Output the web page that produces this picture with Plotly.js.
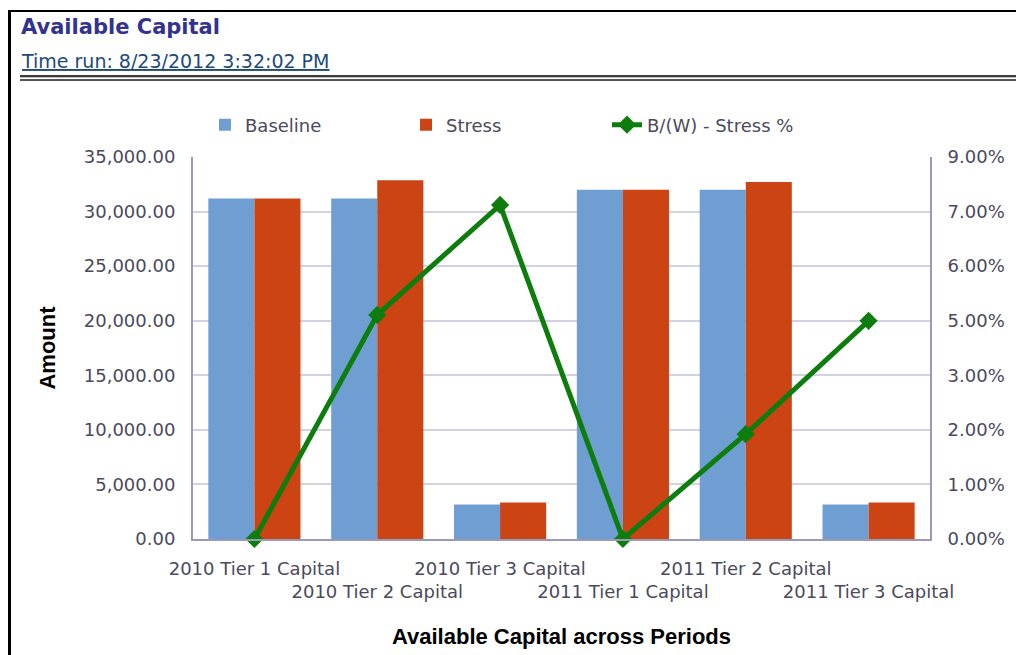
<!DOCTYPE html>
<html>
<head>
<meta charset="utf-8">
<script src="https://cdn.plot.ly/plotly-3.0.1.min.js"></script>
<style>
  html, body { margin: 0; padding: 0; background: #ffffff; }
  #wrap { position: relative; width: 1016px; height: 655px; overflow: hidden; }
  #chart { position: absolute; left: 0; top: 0; width: 1016px; height: 655px; }
  .deco { position: absolute; pointer-events: none; }
</style>
</head>
<body>
<div id="wrap">
  <div id="chart"></div>
  <div class="deco" style="left:8px; top:10px; width:1008px; height:2px; background:#000;"></div>
  <div class="deco" style="left:8px; top:10px; width:3px; height:645px; background:#000;"></div>
  <div class="deco" style="left:20px; top:75px; width:996px; height:2px; background:#3c3c3c;"></div>
  <div class="deco" style="left:20px; top:77px; width:996px; height:1px; background:#bdbdbd;"></div>
  <div class="deco" style="left:20px; top:79px; width:996px; height:2px; background:#555555;"></div>
</div>
<script>
// ---- data ----
var categories = ['2010 Tier 1 Capital', '2010 Tier 2 Capital', '2010 Tier 3 Capital',
                  '2011 Tier 1 Capital', '2011 Tier 2 Capital', '2011 Tier 3 Capital'];
var baseline = [31200, 31200, 3150, 32000, 32000, 3150];
var stress = [31200, 32880, 3350, 32000, 32700, 3350];
var stressPct = [0.0, 0.0528, 0.0787, 0.0, 0.0247, 0.0514];
var leftTickLabels = ['0.00', '5,000.00', '10,000.00', '15,000.00', '20,000.00', '25,000.00', '30,000.00', '35,000.00'];
var rightTickLabels = ['0.00%', '1.00%', '2.00%', '3.00%', '5.00%', '6.00%', '7.00%', '9.00%'];
var seriesNames = ['Baseline', 'Stress', 'B/(W) - Stress %'];
var chartTitle = 'Available Capital';
var timeRun = 'Time run: 8/23/2012 3:32:02 PM';
var xTitle = 'Available Capital across Periods';
var yTitle = 'Amount';

// ---- layout helpers ----
var leftMax = 35000, rightMax = 0.09;
var nTicks = leftTickLabels.length;
var leftTickVals = leftTickLabels.map(function (t, i) { return leftMax * i / (nTicks - 1); });
var rightTickVals = rightTickLabels.map(function (t, i) { return rightMax * i / (nTicks - 1); });
var xTickText = categories.map(function (c, i) { return i % 2 ? '<br>' + c : c; });

var tickFont = { family: 'DejaVu Sans', size: 18, color: '#4a4a5c' };

var traces = [
  {
    type: 'bar', name: seriesNames[0], x: categories, y: baseline,
    marker: { color: '#6f9fd2', line: { width: 0 } }, hoverinfo: 'y'
  },
  {
    type: 'bar', name: seriesNames[1], x: categories, y: stress,
    marker: { color: '#cc4314', line: { width: 0 } }, hoverinfo: 'y'
  },
  {
    type: 'scatter', mode: 'lines+markers', name: seriesNames[2], x: categories, y: stressPct,
    yaxis: 'y2', cliponaxis: false,
    line: { color: '#0d7d0d', width: 5 },
    marker: { symbol: 'diamond', size: 14, color: '#0d7d0d' }
  }
];

var layout = {
  width: 1016, height: 655,
  margin: { l: 193, r: 86, t: 157, b: 116, pad: 0 },
  paper_bgcolor: 'rgba(0,0,0,0)',
  plot_bgcolor: '#ffffff',
  showlegend: true,
  barmode: 'group',
  bargap: 0.25,
  bargroupgap: 0,
  title: {
    text: chartTitle,
    font: { family: 'DejaVu Sans', size: 21, color: '#33338f', weight: 'bold' },
    xref: 'container', yref: 'container',
    x: 21 / 1016, xanchor: 'left',
    y: 1 - 27 / 655, yanchor: 'middle'
  },
  annotations: [
    {
      text: '<u>' + timeRun + '</u>',
      xref: 'paper', yref: 'paper',
      x: -174 / 737, xanchor: 'left',
      y: 1 + (157 - 61) / 382, yanchor: 'middle',
      showarrow: false,
      font: { family: 'DejaVu Sans', size: 19, color: '#1d4a78' }
    }
  ],
  legend: {
    orientation: 'h',
    xref: 'container', yref: 'container',
    x: 205 / 1016, xanchor: 'left',
    y: 1 - 125 / 655, yanchor: 'middle',
    entrywidth: 156, entrywidthmode: 'pixels',
    font: { family: 'DejaVu Sans', size: 18, color: '#4a4a5c' },
    bgcolor: 'rgba(0,0,0,0)',
    traceorder: 'normal'
  },
  xaxis: {
    type: 'category',
    tickvals: categories,
    ticktext: xTickText,
    tickfont: tickFont,
    tickangle: 0,
    ticks: '',
    ticklabelstandoff: 12,
    showgrid: false,
    showline: true, linecolor: '#9a9ab8', linewidth: 2,
    range: [-0.5, 5.5],
    title: {
      text: xTitle,
      font: { family: 'Liberation Sans', size: 22, color: '#000000', weight: 'bold' },
      standoff: 28
    },
    automargin: false,
    fixedrange: true
  },
  yaxis: {
    range: [0, leftMax],
    tickvals: leftTickVals,
    ticktext: leftTickLabels,
    tickfont: tickFont,
    ticks: '',
    ticklabelstandoff: 12,
    showgrid: true, gridcolor: '#d2d2e2', gridwidth: 2,
    zeroline: false,
    showline: true, linecolor: '#9a9ab8', linewidth: 2,
    title: {
      text: yTitle,
      font: { family: 'Liberation Sans', size: 22, color: '#000000', weight: 'bold' },
      standoff: 22
    },
    automargin: false,
    fixedrange: true
  },
  yaxis2: {
    overlaying: 'y', side: 'right',
    range: [0, rightMax],
    tickvals: rightTickVals,
    ticktext: rightTickLabels,
    tickfont: tickFont,
    ticks: '',
    ticklabelstandoff: 12,
    showgrid: false,
    zeroline: false,
    showline: true, linecolor: '#9a9ab8', linewidth: 2,
    automargin: false,
    fixedrange: true
  }
};

Plotly.newPlot('chart', traces, layout, { displayModeBar: false, staticPlot: true });
</script>
</body>
</html>
